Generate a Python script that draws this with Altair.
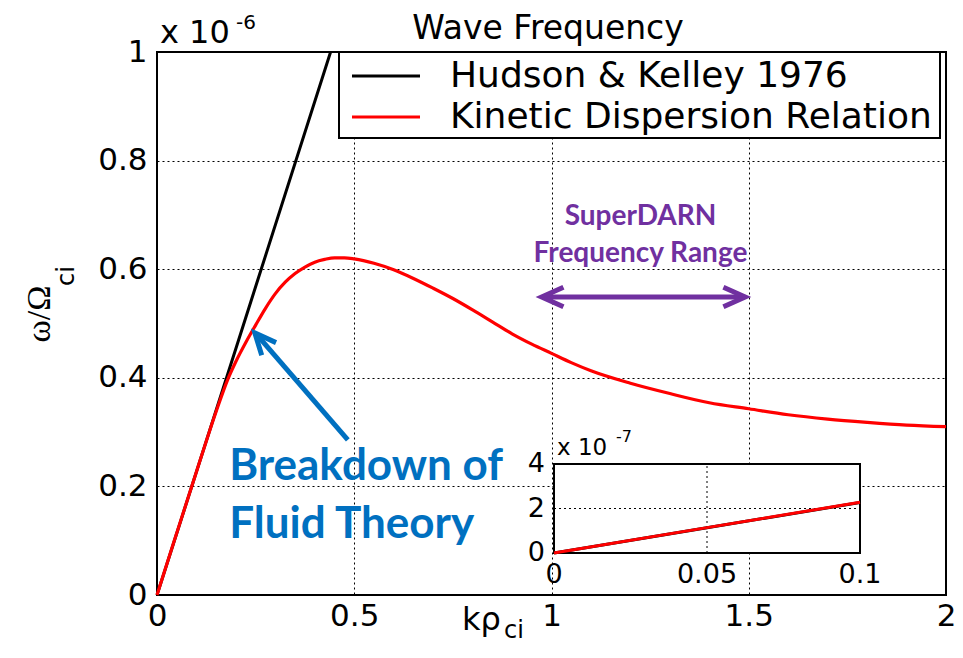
import altair as alt
import pandas as pd

# ---------------- data (omega in units of 1e-6) ----------------
series_names = ["Hudson & Kelley 1976", "Kinetic Dispersion Relation"]
series_colors = ["black", "red"]

k_fluid = [0.0, 0.2, 0.44]
w_fluid = [0.0, 0.454, 1.0]

k_kin = [0.0, 0.05, 0.1, 0.15, 0.18, 0.2, 0.225, 0.25, 0.275, 0.3, 0.325, 0.35, 0.375, 0.4,
         0.425, 0.45, 0.475, 0.5, 0.55, 0.6, 0.65, 0.7, 0.75, 0.8, 0.85, 0.9, 0.95, 1.0,
         1.05, 1.1, 1.2, 1.3, 1.4, 1.5, 1.6, 1.7, 1.8, 1.9, 2.0]
w_kin = [0.0, 0.114, 0.227, 0.338, 0.398, 0.43, 0.465, 0.497, 0.528, 0.555, 0.576, 0.592,
         0.604, 0.613, 0.618, 0.621, 0.621, 0.619, 0.611, 0.599, 0.583, 0.565, 0.546, 0.525,
         0.503, 0.481, 0.462, 0.445, 0.428, 0.413, 0.39, 0.371, 0.354, 0.343,
         0.332, 0.324, 0.318, 0.313, 0.31]

x_ticks = [0, 0.5, 1, 1.5, 2]
y_ticks = [0, 0.2, 0.4, 0.6, 0.8, 1]

# inset (omega in units of 1e-7)
inset_k = [0.0, 0.05, 0.1]
inset_fluid = [0.0, 1.135, 2.27]
inset_kin = [0.0, 1.14, 2.28]
inset_x_ticks = [0, 0.05, 0.1]
inset_x_labels = ["0", "0.05", "0.1"]
inset_y_ticks = [0, 2, 4]

# annotations (in data units of the main axes)
purple_text = ["SuperDARN", "Frequency Range"]
purple_text_k = [1.2256, 1.2256]
purple_text_w = [0.6814, 0.6133]
purple_shaft_k = [0.985, 1.481]
purple_shaft_w = [0.5488, 0.5488]
purple_head_k = [0.975, 1.491]
purple_head_w = [0.5488, 0.5488]
purple_head_angle = [180, 0]

blue_text = ["Breakdown of", "Fluid Theory"]
blue_text_k = [0.183, 0.183]
blue_text_w = [0.2118, 0.105]
blue_shaft_k = [0.4837, 0.2556]
blue_shaft_w = [0.2855, 0.477]
blue_head_k = [0.2481]
blue_head_w = [0.4825]
blue_head_angle = [228.7]

PURPLE = "#7030A0"
BLUE = "#0070C0"
W, H = 789, 543
SANS = "DejaVu Sans"

# ---------------- main panel ----------------
xs = alt.Scale(domain=[x_ticks[0], x_ticks[-1]], nice=False, zero=False)
ys = alt.Scale(domain=[y_ticks[0], y_ticks[-1]], nice=False, zero=False)

x_axis = alt.Axis(values=x_ticks, format="~g", title=None, grid=True, ticks=False,
                  domain=False, labelPadding=6, labelFlush=False)
y_axis = alt.Axis(values=y_ticks, format="~g", title=None, grid=True, ticks=False,
                  domain=False, labelPadding=10, labelFlush=False)

color = alt.Color("s:N", scale=alt.Scale(domain=series_names, range=series_colors), legend=None)

df_fluid = pd.DataFrame({"k": k_fluid, "w": w_fluid, "s": series_names[0]})
df_kin = pd.DataFrame({"k": k_kin, "w": w_kin, "s": series_names[1]})

fluid = alt.Chart(df_fluid).mark_line(strokeWidth=3).encode(
    x=alt.X("k:Q", scale=xs, axis=x_axis),
    y=alt.Y("w:Q", scale=ys, axis=y_axis),
    color=color,
)
kin = alt.Chart(df_kin).mark_line(strokeWidth=3.2, interpolate="monotone").encode(
    x=alt.X("k:Q", scale=xs, axis=x_axis),
    y=alt.Y("w:Q", scale=ys, axis=y_axis),
    color=color,
)

# legend drawn as a box with two entries
leg_box = alt.Chart(pd.DataFrame({"a": [0]})).mark_rect(
    fill="white", stroke="black", strokeWidth=2).encode(
    x=alt.value(182), x2=alt.value(783), y=alt.value(0), y2=alt.value(86))
leg_items = []
for i, (name, col) in enumerate(zip(series_names, series_colors)):
    row_y = 24 + 41 * i
    d = pd.DataFrame({"t": [name]})
    leg_items.append(alt.Chart(d).mark_rule(color=col, strokeWidth=3).encode(
        x=alt.value(195), x2=alt.value(263), y=alt.value(row_y)))
    leg_items.append(alt.Chart(d).mark_text(
        font=SANS, fontSize=36, align="left", baseline="middle", color="black").encode(
        x=alt.value(293), y=alt.value(row_y), text="t:N"))

chevron = "M -1 -0.45 L 0 0 L -1 0.45"

p_txt = alt.Chart(pd.DataFrame({"k": purple_text_k, "w": purple_text_w, "t": purple_text})).mark_text(
    font="Lato", fontWeight="bold", fontSize=28, color=PURPLE, align="center", baseline="alphabetic"
).encode(x=alt.X("k:Q", scale=xs), y=alt.Y("w:Q", scale=ys), text="t:N")
p_shaft = alt.Chart(pd.DataFrame({"k": purple_shaft_k, "w": purple_shaft_w})).mark_line(
    color=PURPLE, strokeWidth=5).encode(x=alt.X("k:Q", scale=xs), y=alt.Y("w:Q", scale=ys))
p_head = alt.Chart(pd.DataFrame({"k": purple_head_k, "w": purple_head_w, "a": purple_head_angle})).mark_point(
    shape=chevron, filled=False, size=1900, strokeWidth=5, color=PURPLE, opacity=1, strokeJoin="miter"
).encode(x=alt.X("k:Q", scale=xs), y=alt.Y("w:Q", scale=ys), angle=alt.Angle("a:Q", scale=None))

b_txt = alt.Chart(pd.DataFrame({"k": blue_text_k, "w": blue_text_w, "t": blue_text})).mark_text(
    font="Lato", fontWeight="bold", fontSize=44, color=BLUE, align="left", baseline="alphabetic"
).encode(x=alt.X("k:Q", scale=xs), y=alt.Y("w:Q", scale=ys), text="t:N")
b_shaft = alt.Chart(pd.DataFrame({"k": blue_shaft_k, "w": blue_shaft_w})).mark_line(
    color=BLUE, strokeWidth=5).encode(x=alt.X("k:Q", scale=xs), y=alt.Y("w:Q", scale=ys))
b_head = alt.Chart(pd.DataFrame({"k": blue_head_k, "w": blue_head_w, "a": blue_head_angle})).mark_point(
    shape=chevron, filled=False, size=1800, strokeWidth=5, color=BLUE, opacity=1, strokeJoin="miter"
).encode(x=alt.X("k:Q", scale=xs), y=alt.Y("w:Q", scale=ys), angle=alt.Angle("a:Q", scale=None))

corner = pd.DataFrame({"k": [x_ticks[0]], "w": [y_ticks[-1]], "t": ["x 10"], "e": ["-6"]})
exp_base = alt.Chart(corner).mark_text(font=SANS, fontSize=32, align="left", baseline="alphabetic",
                                       dx=3, dy=-9, color="black").encode(
    x=alt.X("k:Q", scale=xs), y=alt.Y("w:Q", scale=ys), text="t:N")
exp_sup = alt.Chart(corner).mark_text(font=SANS, fontSize=20, align="left", baseline="alphabetic",
                                      dx=79, dy=-23, color="black").encode(
    x=alt.X("k:Q", scale=xs), y=alt.Y("w:Q", scale=ys), text="e:N")

title = alt.Chart(pd.DataFrame({"t": ["Wave Frequency"]})).mark_text(
    font=SANS, fontSize=33, align="center", baseline="alphabetic", color="black"
).encode(x=alt.value(391), y=alt.value(-13), text="t:N")

xt1 = alt.Chart(pd.DataFrame({"t": ["kρ"]})).mark_text(
    font=SANS, fontSize=32, align="left", baseline="alphabetic", color="black"
).encode(x=alt.value(305), y=alt.value(578), text="t:N")
xt2 = alt.Chart(pd.DataFrame({"t": ["ci"]})).mark_text(
    font=SANS, fontSize=24, align="left", baseline="alphabetic", color="black"
).encode(x=alt.value(347), y=alt.value(586), text="t:N")

yt1 = alt.Chart(pd.DataFrame({"t": ["ω/Ω"]})).mark_text(
    font="Liberation Serif", fontSize=34, align="center", baseline="middle", angle=270, color="black"
).encode(x=alt.value(-117), y=alt.value(262), text="t:N")
yt2 = alt.Chart(pd.DataFrame({"t": ["ci"]})).mark_text(
    font=SANS, fontSize=24, align="center", baseline="middle", angle=270, color="black"
).encode(x=alt.value(-90), y=alt.value(224), text="t:N")

main = alt.layer(fluid, kin, p_shaft, p_head, p_txt, b_shaft, b_head, b_txt,
                 exp_base, exp_sup, title, xt1, xt2, yt1, yt2, leg_box, *leg_items)

# ---------------- inset ----------------
isx = alt.Scale(domain=[inset_x_ticks[0], inset_x_ticks[-1]], range=[397, 703], nice=False, zero=False)
isy = alt.Scale(domain=[inset_y_ticks[0], inset_y_ticks[-1]], range=[501, 412], nice=False, zero=False)

box = pd.DataFrame({"x0": [inset_x_ticks[0]], "x1": [inset_x_ticks[-1]],
                    "y0": [inset_y_ticks[0]], "y1": [inset_y_ticks[-1]]})
i_bg = alt.Chart(box).mark_rect(fill="white", stroke="black", strokeWidth=2).encode(
    x=alt.X("x0:Q", scale=isx, axis=None), x2="x1:Q",
    y=alt.Y("y0:Q", scale=isy, axis=None), y2="y1:Q")

vgrid = pd.DataFrame({"x": inset_x_ticks[1:-1], "y0": inset_y_ticks[0], "y1": inset_y_ticks[-1]})
hgrid = pd.DataFrame({"y": inset_y_ticks[1:-1], "x0": inset_x_ticks[0], "x1": inset_x_ticks[-1]})
i_vg = alt.Chart(vgrid).mark_rule(color="black", strokeDash=[2, 3], strokeWidth=1).encode(
    x=alt.X("x:Q", scale=isx, axis=None), y=alt.Y("y0:Q", scale=isy, axis=None), y2="y1:Q")
i_hg = alt.Chart(hgrid).mark_rule(color="black", strokeDash=[2, 3], strokeWidth=1).encode(
    y=alt.Y("y:Q", scale=isy, axis=None), x=alt.X("x0:Q", scale=isx, axis=None), x2="x1:Q")

i_fluid = alt.Chart(pd.DataFrame({"k": inset_k, "w": inset_fluid})).mark_line(
    color="black", strokeWidth=3).encode(
    x=alt.X("k:Q", scale=isx, axis=None), y=alt.Y("w:Q", scale=isy, axis=None))
i_kin = alt.Chart(pd.DataFrame({"k": inset_k, "w": inset_kin})).mark_line(
    color="red", strokeWidth=3).encode(
    x=alt.X("k:Q", scale=isx, axis=None), y=alt.Y("w:Q", scale=isy, axis=None))

i_xl = alt.Chart(pd.DataFrame({"x": inset_x_ticks, "y": inset_y_ticks[0], "t": inset_x_labels})).mark_text(
    font=SANS, fontSize=27, align="center", baseline="middle", dy=22, color="black").encode(
    x=alt.X("x:Q", scale=isx, axis=None), y=alt.Y("y:Q", scale=isy, axis=None), text="t:N")
i_yl = alt.Chart(pd.DataFrame({"x": inset_x_ticks[0], "y": inset_y_ticks,
                               "t": [str(v) for v in inset_y_ticks]})).mark_text(
    font=SANS, fontSize=27, align="right", baseline="middle", dx=-9, color="black").encode(
    x=alt.X("x:Q", scale=isx, axis=None), y=alt.Y("y:Q", scale=isy, axis=None), text="t:N")

icorner = pd.DataFrame({"x": [inset_x_ticks[0]], "y": [inset_y_ticks[-1]], "t": ["x 10"], "e": ["-7"]})
i_exp = alt.Chart(icorner).mark_text(font=SANS, fontSize=23, align="left", baseline="alphabetic",
                                     dx=3, dy=-9, color="black").encode(
    x=alt.X("x:Q", scale=isx, axis=None), y=alt.Y("y:Q", scale=isy, axis=None), text="t:N")
i_sup = alt.Chart(icorner).mark_text(font=SANS, fontSize=16, align="left", baseline="alphabetic",
                                     dx=62, dy=-22, color="black").encode(
    x=alt.X("x:Q", scale=isx, axis=None), y=alt.Y("y:Q", scale=isy, axis=None), text="e:N")

inset = alt.layer(i_bg, i_vg, i_hg, i_fluid, i_kin, i_xl, i_yl, i_exp, i_sup)

chart = alt.layer(main, inset).resolve_scale(x="independent", y="independent").properties(
    width=W, height=H,
    autosize=alt.AutoSizeParams(type="none"),
    padding={"left": 149, "top": 44, "right": 9, "bottom": 51},
    background="white",
).configure_view(
    stroke="black", strokeWidth=2
).configure_axis(
    labelFont=SANS, labelFontSize=31, labelColor="black",
    gridColor="black", gridDash=[2, 3], gridWidth=1, gridOpacity=1,
)

chart.save("out.html", embed_options={"renderer": "svg", "actions": False})
